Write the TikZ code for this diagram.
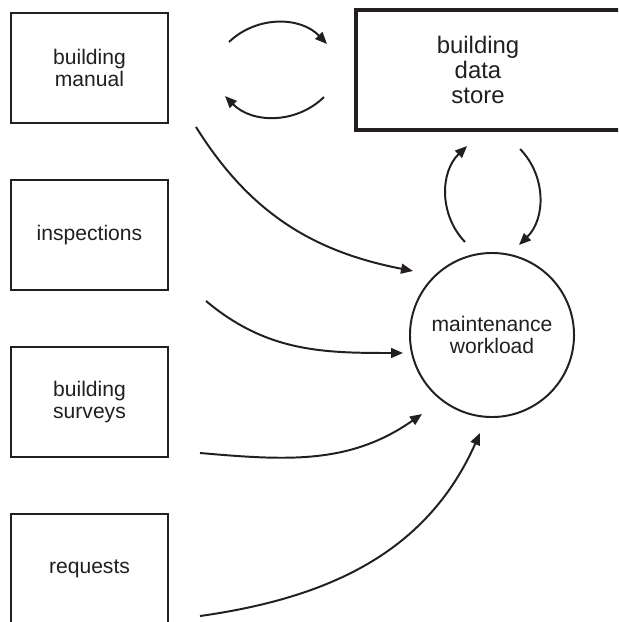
\documentclass[tikz,border=0pt]{standalone}
\usepackage{fontspec}
\setmainfont{Liberation Sans}
\usepackage{xcolor}
\usepackage{tikz}
\usetikzlibrary{arrows.meta,positioning}
\definecolor{inkblack}{RGB}{35, 31, 32}

\begin{document}
\begin{tikzpicture}[x=0.025cm, y=-0.025cm, >={Triangle[length=8.5pt,width=7pt]},
        sourcebox/.style={draw=inkblack, line width=1.4pt, minimum width=3.925cm, minimum height=2.75cm, align=center, text=inkblack, font=\fontsize{15}{16}\selectfont},
        flow/.style={->, draw=inkblack, line width=1.4pt}]
        \useasboundingbox (0, 0) rectangle (618, 622);
        \clip (0, 0) rectangle (618, 622);
        \fill[white] (0, 0) rectangle (618, 622);

        % Sources on the left
        \node[sourcebox] (manual) at (89.5, 68) {building\\manual};
        \node[sourcebox] (inspect) at (89.5, 235) {inspections};
        \node[sourcebox] (survey) at (89.5, 402) {building\\surveys};
        \node[sourcebox] (request) at (89.5, 569) {requests};

        % Data store (runs off the right edge)
        \node[draw=inkblack, line width=2.85pt, minimum width=7.5cm, minimum height=3cm, anchor=north west] (store) at (354, 8) {};
        \node[align=center, text=inkblack, font=\fontsize{17}{17.8}\selectfont] (storetext) at (478, 70) {building\\data\\store};

        % Workload
        \node[circle, draw=inkblack, line width=1.4pt, minimum size=4.1cm, align=center, text=inkblack, font=\fontsize{15}{16}\selectfont] (maint) at (492, 335) {maintenance\\workload};

        % Manual <-> store
        \draw[flow] ([shift={(60,-26)}]manual.east) to[bend left=45] ([shift={(-27,-26)}]store.west);
        \draw[flow] ([shift={(-30,27)}]store.west) to[bend left=45] ([shift={(56,28)}]manual.east);

        % Sources -> workload
        \draw[flow] ([shift={(27,3)}]manual.south east) to[out=-58, in=169] ([shift={(4,-64)}]maint.west);
        \draw[flow] ([shift={(37,66)}]inspect.east) to[out=-40, in=180] ([shift={(-6,18)}]maint.west);
        \draw[flow] ([shift={(31,51)}]survey.east) to[out=-5, in=-145] ([shift={(13,79)}]maint.west);
        \draw[flow] ([shift={(31,47)}]request.east) to[out=8, in=-114] ([shift={(-12,15)}]maint.south);

        % Workload <-> store
        \draw[flow] ([shift={(-27,-10)}]maint.north) to[bend left=45] ([shift={(-39,14)}]store.south);
        \draw[flow] ([shift={(14,17)}]store.south) to[bend left=45] ([shift={(27,-7)}]maint.north);
\end{tikzpicture}
\end{document}
